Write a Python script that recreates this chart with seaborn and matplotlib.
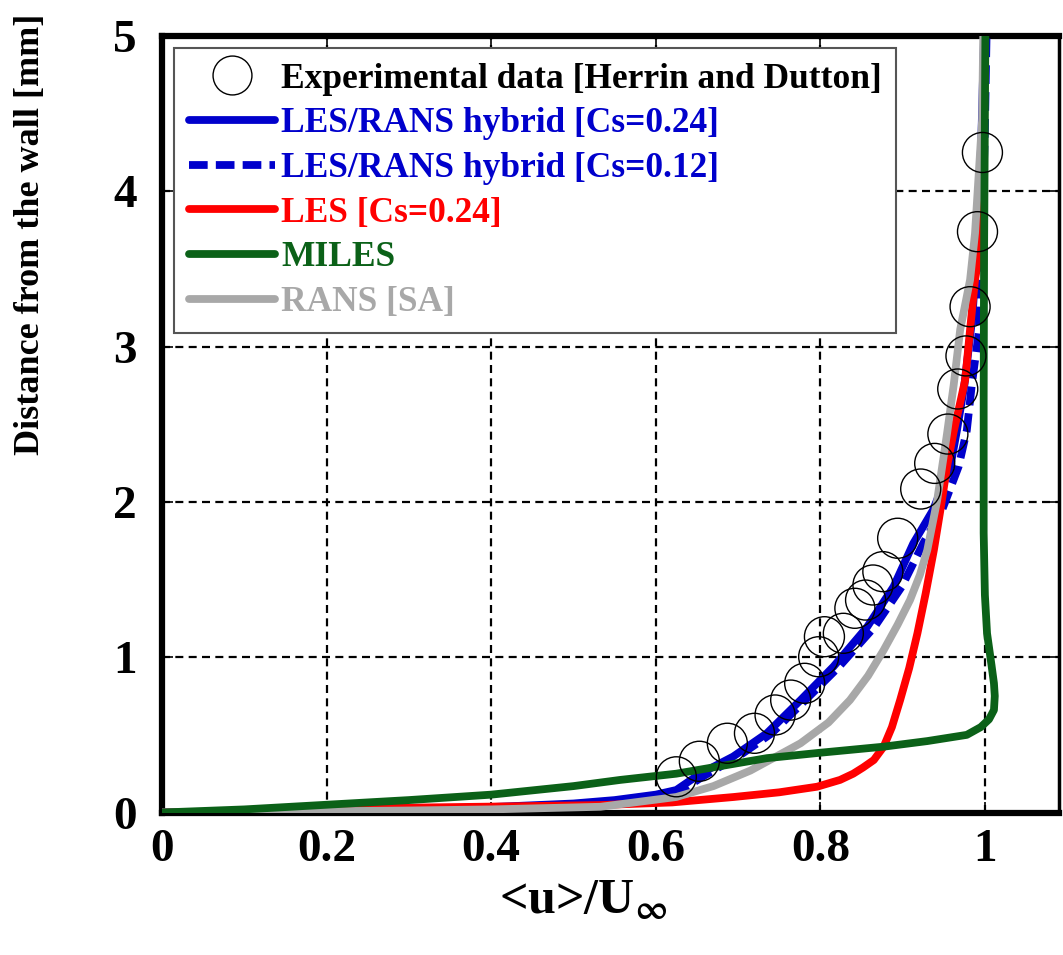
import numpy as np
import pandas as pd
import matplotlib
matplotlib.use("Agg")
import matplotlib.pyplot as plt
import seaborn as sns
from matplotlib.lines import Line2D

# ---------------- data ----------------
exp_x = [0.625, 0.653, 0.687, 0.720, 0.745, 0.764, 0.781, 0.798, 0.805, 0.828, 0.842,
         0.855, 0.864, 0.876, 0.894, 0.922, 0.939, 0.955, 0.967, 0.977, 0.982, 0.991, 0.997]
exp_y = [0.23, 0.33, 0.446, 0.51, 0.628, 0.724, 0.832, 1.003, 1.132, 1.154, 1.315,
         1.368, 1.465, 1.551, 1.766, 2.083, 2.248, 2.437, 2.727, 2.94, 3.257, 3.74, 4.25]

hyb24_x = [0.0, 0.1, 0.2, 0.3, 0.4, 0.5, 0.55, 0.6, 0.625, 0.654, 0.694, 0.735, 0.776,
           0.816, 0.857, 0.889, 0.913, 0.937, 0.958, 0.966, 0.975, 0.985, 0.992, 0.996, 0.999]
hyb24_y = [0.0, 0.005, 0.012, 0.022, 0.035, 0.058, 0.08, 0.115, 0.145, 0.25, 0.36, 0.51,
           0.724, 0.94, 1.196, 1.454, 1.733, 1.948, 2.227, 2.46, 2.75, 3.2, 3.8, 4.4, 5.0]

hyb12_x = [0.0, 0.1, 0.2, 0.3, 0.4, 0.5, 0.55, 0.6, 0.63, 0.66, 0.70, 0.741, 0.782,
           0.823, 0.866, 0.899, 0.925, 0.948, 0.968, 0.978, 0.984, 0.9925, 0.997, 1.0, 1.002]
hyb12_y = [0.0, 0.004, 0.01, 0.019, 0.031, 0.052, 0.072, 0.105, 0.14, 0.24, 0.36, 0.51,
           0.724, 0.94, 1.196, 1.454, 1.733, 1.948, 2.227, 2.46, 2.75, 3.09, 3.8, 4.4, 5.0]

les_x = [0.0, 0.1, 0.2, 0.281, 0.4, 0.533, 0.62, 0.695, 0.75, 0.796, 0.824, 0.84, 0.852, 0.865,
         0.877, 0.887, 0.897, 0.908, 0.918, 0.928, 0.938, 0.946, 0.954, 0.962, 0.970,
         0.976, 0.982, 0.988, 0.9945, 0.998, 1.0]
les_y = [0.0, 0.008, 0.018, 0.03, 0.038, 0.048, 0.065, 0.10, 0.13, 0.166, 0.21, 0.25, 0.29, 0.338,
         0.424, 0.55, 0.724, 0.93, 1.154, 1.41, 1.69, 1.95, 2.227, 2.45, 2.64,
         2.785, 3.11, 3.43, 3.64, 4.2, 5.0]

miles_x = [0.0, 0.1, 0.2, 0.3, 0.4, 0.5, 0.557, 0.625, 0.68, 0.735, 0.8, 0.877, 0.93, 0.978,
           0.995, 1.005, 1.011, 1.012, 1.011, 1.008, 1.0026, 1.0, 0.9985, 0.9985, 0.999, 1.0, 1.0006]
miles_y = [0.0, 0.02, 0.05, 0.08, 0.115, 0.17, 0.21, 0.25, 0.30, 0.35, 0.385, 0.424, 0.46, 0.50,
           0.55, 0.60, 0.66, 0.75, 0.832, 0.95, 1.154, 1.4, 1.80, 2.66, 3.6, 4.5, 5.0]

rans_x = [0.0, 0.1, 0.2, 0.3, 0.4, 0.533, 0.625, 0.67, 0.715, 0.776, 0.81, 0.836, 0.858, 0.877,
          0.894, 0.909, 0.921, 0.930, 0.942, 0.954, 0.962, 0.970, 0.982, 0.988, 0.9966, 0.998]
rans_y = [0.0, 0.004, 0.008, 0.013, 0.02, 0.037, 0.10, 0.17, 0.27, 0.446, 0.58, 0.724, 0.88, 1.046,
          1.21, 1.368, 1.53, 1.69, 2.01, 2.44, 2.75, 3.11, 3.43, 3.73, 4.46, 5.0]

x_ticks = [0, 0.2, 0.4, 0.6, 0.8, 1.0]
x_ticklabels = ["0", "0.2", "0.4", "0.6", "0.8", "1"]
y_ticks = [0, 1, 2, 3, 4, 5]
y_ticklabels = ["0", "1", "2", "3", "4", "5"]

labels = ["Experimental data [Herrin and Dutton]",
          "LES/RANS hybrid [Cs=0.24]",
          "LES/RANS hybrid [Cs=0.12]",
          "LES [Cs=0.24]",
          "MILES",
          "RANS [SA]"]

# ---------------- style ----------------
sns.set_style("ticks")
plt.rcParams["font.family"] = ["Liberation Serif", "DejaVu Serif"]
plt.rcParams["font.weight"] = "bold"
plt.rcParams["mathtext.fontset"] = "stix"
for k in ["text.color", "axes.labelcolor", "xtick.color", "ytick.color", "axes.edgecolor"]:
    plt.rcParams[k] = "black"

BLUE = "#0000CC"
RED = "#FF0000"
GREEN = "#0B6118"
GREY = "#A8A8A8"

fig = plt.figure(figsize=(10.63, 9.55), dpi=100)
ax = fig.add_axes([0.1524, 0.1492, 0.8438, 0.8131])

lw = 5.6
sns.lineplot(x=hyb12_x, y=hyb12_y, ax=ax, color=BLUE, lw=lw, sort=False, estimator=None,
             zorder=3).lines[-1].set_dashes((2.4, 1.05))
sns.lineplot(x=hyb24_x, y=hyb24_y, ax=ax, color=BLUE, lw=lw, sort=False, estimator=None, zorder=4)
sns.lineplot(x=les_x, y=les_y, ax=ax, color=RED, lw=lw, sort=False, estimator=None, zorder=5)
sns.lineplot(x=rans_x, y=rans_y, ax=ax, color=GREY, lw=lw, sort=False, estimator=None, zorder=6)
sns.lineplot(x=miles_x, y=miles_y, ax=ax, color=GREEN, lw=lw, sort=False, estimator=None, zorder=7)
sns.scatterplot(x=exp_x, y=exp_y, ax=ax, s=830, facecolor="none", edgecolor="black",
                linewidth=1.0, zorder=8)
for ln in ax.get_lines():
    ln.set_solid_joinstyle("round")
    ln.set_dash_joinstyle("round")

ax.set_xlim(0, 1.09)
ax.set_ylim(0, 5)
ax.set_xticks(x_ticks)
ax.set_xticklabels(x_ticklabels)
ax.set_yticks(y_ticks)
ax.set_yticklabels(y_ticklabels)

ax.grid(True, color="black", lw=1.6, linestyle=(0, (3.6, 2.4)), zorder=1)
ax.set_axisbelow(True)

for side in ["left", "bottom", "top"]:
    ax.spines[side].set_linewidth(4.5)
ax.spines["right"].set_linewidth(2.5)
for sp in ax.spines.values():
    sp.set_color("black")
    sp.set_visible(True)

ax.tick_params(axis="both", direction="in", length=8, width=1.2, top=True, right=True,
               labelsize=34, colors="black")
ax.tick_params(axis="x", pad=12)
ax.tick_params(axis="y", pad=18)
for t in ax.get_xticklabels() + ax.get_yticklabels():
    t.set_fontweight("bold")

ax.set_xlabel(r"<u>/U$_{\mathbf{\infty}}$", fontsize=36, fontweight="bold", color="black")
ax.xaxis.set_label_coords(0.47, -0.085)
ax.set_ylabel("Distance from the wall [mm]", fontsize=26, fontweight="bold", color="black")
ax.yaxis.set_label_coords(-0.128, 0.745)

handles = [
    Line2D([], [], marker="o", ls="none", markersize=28, markerfacecolor="none",
           markeredgecolor="black", markeredgewidth=1.0),
    Line2D([], [], color=BLUE, lw=lw),
    Line2D([], [], color=BLUE, lw=lw, dashes=(2.4, 1.05)),
    Line2D([], [], color=RED, lw=lw),
    Line2D([], [], color=GREEN, lw=lw),
    Line2D([], [], color=GREY, lw=lw),
]
leg = ax.legend(handles, labels, loc="upper left", frameon=True,
                fancybox=False, framealpha=1, edgecolor="#555555",
                handlelength=2.45, handletextpad=0.17, labelspacing=0.33,
                borderpad=0.4, borderaxespad=0.35,
                prop={"family": ["Liberation Serif"], "weight": "bold", "size": 25.5})
leg.get_frame().set_linewidth(1.5)
leg.set_zorder(10)
text_colors = ["black", BLUE, BLUE, RED, GREEN, GREY]
for t, c in zip(leg.get_texts(), text_colors):
    t.set_color(c)

fig.savefig("out.png", dpi=100)
